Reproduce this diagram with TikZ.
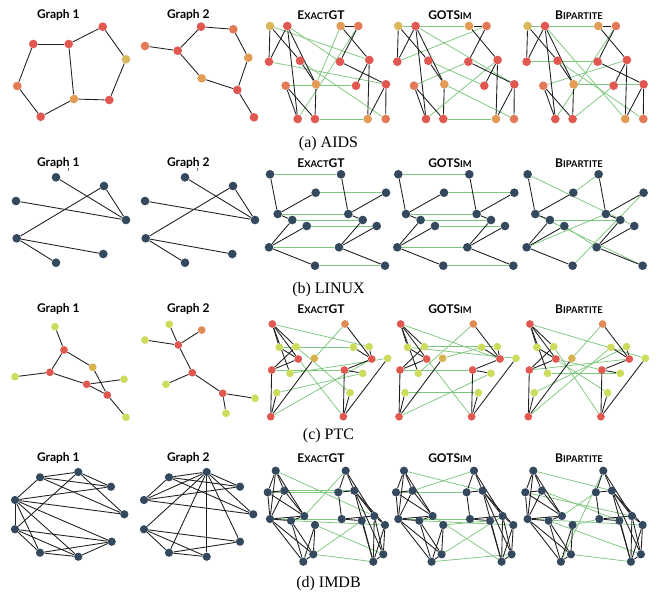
\documentclass[tikz,border=0pt]{standalone}
\usepackage{fontspec}
\newfontfamily\ttlfont{Lato}
\newfontfamily\capfont{Liberation Serif}
\pgfdeclarelayer{bgw}
\pgfdeclarelayer{bgg}
\pgfdeclarelayer{bg}
\pgfsetlayers{bgw,bgg,bg,main}
\definecolor{cRd}{HTML}{E0584F}
\definecolor{cSa}{HTML}{E27A57}
\definecolor{cOg}{HTML}{E39C55}
\definecolor{cYe}{HTML}{D9B95C}
\definecolor{cNv}{HTML}{34495E}
\definecolor{cLm}{HTML}{CDDC5C}
\definecolor{cGd}{HTML}{D8B24E}
\definecolor{cPo}{HTML}{E08A55}
\definecolor{cGl}{HTML}{7DC67D}
\def\dotsz{6.3pt}
\tikzset{
  dot/.style={circle, inner sep=0pt, minimum size=\dotsz, draw=none},
  edge/.style={black!88, line width=0.65pt},
  match/.style={cGl, line width=0.55pt},
  ttl/.style={font=\ttlfont\bfseries\fontsize{9}{10}\selectfont, inner sep=0pt},
  capt/.style={font=\capfont\fontsize{12}{14}\selectfont, inner sep=0pt}
}
\newcommand\sm[1]{{\fontsize{7}{8}\selectfont #1}}
\newcommand\placeg[4]{%
  \begin{scope}[shift={(#2,0)}]
    \foreach \x/\y/\c [count=\i] in #3 {\node[dot,fill=\c] (#1#4\i) at (\x,\y) {};}
  \end{scope}}
\newcommand\edgesg[2]{\begin{pgfonlayer}{bg}\foreach \a/\b in {#2} {\draw[edge] (#1\a) -- (#1\b);}\end{pgfonlayer}}
\newcommand\matchg[2]{\begin{pgfonlayer}{bgg}\foreach \a/\b in {#2} {\draw[match] (#1L\a) -- (#1R\b);}\end{pgfonlayer}}
\newcommand\rowpanels[5]{%
  \foreach \p/\s in {E/0,G/128.3,B/257.6}{%
    \placeg{#1\p}{\s}{#2}{L}%
    \placeg{#1\p}{\s}{#3}{R}%
    \edgesg{#1\p L}{#4}%
    \edgesg{#1\p R}{#5}%
  }}
\newcommand\titles[3]{%
  \node[ttl] (#1t1) at (58.3,#2) {Graph 1};
  \node[ttl] (#1t2) at (188.3,#2) {Graph 2};
  \node[ttl] (#1t3) at (321,#2) {E\sm{XACT}GT};
  \node[ttl] (#1t4) at (450,#2) {GOTS\sm{IM}};
  \node[ttl] (#1t5) at (579,#2) {B\sm{IPARTITE}};
  \node[capt] (#1cap) at (328.5,#3) {(#1) \csname cap#1\endcsname};}
\def\capa{AIDS}\def\capb{LINUX}\def\capc{PTC}\def\capd{IMDB}
% ---------- data ----------
\def\aGa{102.7/26.7/cRd, 33.3/44/cRd, 68.7/44/cRd, 126/59.3/cYe, 17.3/86/cSa, 74/99/cOg, 109.3/100/cRd, 40.7/116.7/cRd}
\def\aGb{145/46/cSa, 177.7/50.7/cRd, 201/26.7/cRd, 233.3/29.3/cSa, 248.3/57.7/cOg, 201.7/78.3/cOg, 237.3/90/cRd, 254/117.3/cRd}
\def\aPL{270/26/cYe, 287.3/26/cRd, 269/61.7/cRd, 300/60.7/cRd, 285.7/85.7/cSa, 316/84.3/cOg, 297.7/119/cRd, 315/119/cRd}
\def\aPR{340.7/26/cOg, 358.3/26/cSa, 340/61.7/cRd, 369.3/60/cRd, 356/85.7/cRd, 386/84.3/cRd, 367.7/119/cOg, 385.7/119/cSa}
\def\lGa{56/177.3/cNv, 104/186/cNv, 16/201/cNv, 126/220/cNv, 16.7/238.3/cNv, 103.3/254/cNv, 56/262.7/cNv}
\def\lGb{185/177.3/cNv, 233/186/cNv, 145/201/cNv, 255/220/cNv, 145.7/238.3/cNv, 232.3/254/cNv, 185/262.7/cNv}
\def\lPL{270/174.3/cNv, 315.7/192.7/cNv, 277.7/214/cNv, 292.3/220/cNv, 306.7/226/cNv, 269/247.3/cNv, 315/265.7/cNv}
\def\lPR{341/174.3/cNv, 386/192.7/cNv, 348.3/214/cNv, 362.7/220/cNv, 376.7/226/cNv, 339/247.3/cNv, 385/265.7/cNv}
\def\pGa{55/326.7/cLm, 64/350/cRd, 92.7/367.3/cGd, 15/376.7/cLm, 50/372.3/cRd, 86.7/384.3/cRd, 124/379.3/cLm, 107.3/395/cRd, 126/417.3/cLm}
\def\pGb{169.3/324.3/cLm, 201.7/330/cPo, 145/340/cLm, 178.3/345/cRd, 192.3/372.7/cRd, 166/384.3/cLm, 222.7/393.3/cRd, 255/398.3/cLm, 226/413.3/cLm}
\def\pPL{272.3/324/cRd, 279.3/347.3/cLm, 296/346.7/cLm, 298.3/359/cRd, 314.3/358.3/cGd, 271.7/370/cRd, 290/373.3/cLm, 276.7/392.7/cLm, 270.7/416.7/cRd}
\def\pPR{345/324/cPo, 353.3/347.3/cLm, 369/346.7/cLm, 371.7/359/cRd, 387.7/358.3/cLm, 344.3/370/cRd, 362.7/373.3/cLm, 350/392.7/cLm, 343.3/416.7/cRd}
\def\iGa{40/477.3/cNv, 78.3/472/cNv, 111/486.7/cNv, 15/500/cNv, 124.3/514.3/cNv, 15/529.3/cNv, 111.7/541.7/cNv, 40/552.7/cNv, 78.3/556.7/cNv}
\def\iGb{169/477.3/cNv, 206.7/472/cNv, 240/486.7/cNv, 144/500/cNv, 253.3/514.3/cNv, 144/529.3/cNv, 240/541.7/cNv, 169/552.7/cNv, 206.7/556.7/cNv}
\def\iPL{275.7/470.7/cNv, 267.7/492.3/cNv, 284.3/490.7/cNv, 270/519/cNv, 291/520.7/cNv, 304.3/516/cNv, 315/525/cNv, 303.3/561.7/cNv, 313.3/554.3/cNv}
\def\iPR{345.7/470.7/cNv, 338.3/492.3/cNv, 354.3/490.7/cNv, 341.7/519/cNv, 361.7/520.7/cNv, 374.3/516/cNv, 385/525/cNv, 373.3/561.7/cNv, 383.3/554.3/cNv}
\begin{document}
\begin{tikzpicture}[x=0.75pt,y=-0.75pt]
\useasboundingbox (0,0) rectangle (660,594);
\begin{pgfonlayer}{bgw}\fill[white] (0,0) rectangle (660,594);\end{pgfonlayer}
% ================= (a) AIDS =================
\def\dotsz{6.5pt}
\titles{a}{15}{144}
\placeg{aX}{0}{\aGa}{L}
\placeg{aX}{0}{\aGb}{R}
\edgesg{aXL}{3/1, 1/4, 4/7, 7/6, 6/3, 3/2, 2/5, 5/8, 8/6}
\edgesg{aXR}{1/2, 2/3, 3/4, 4/5, 5/7, 7/6, 6/2, 7/8}
\rowpanels{a}{\aPL}{\aPR}{1/3, 1/4, 4/6, 2/6, 2/3, 2/7, 7/5, 5/8, 8/6}{1/2, 2/3, 3/6, 6/8, 6/7, 7/4, 4/5, 4/1}
\matchg{aE}{1/4, 2/3, 3/6, 4/8, 5/5, 6/1, 7/2, 8/7}
\matchg{aG}{1/1, 2/6, 3/2, 4/5, 5/3, 6/8, 7/4, 8/7}
\matchg{aB}{1/1, 2/7, 3/3, 4/8, 5/4, 6/6, 7/2, 8/5}
% ================= (b) LINUX =================
\def\dotsz{6.5pt}
\titles{b}{163}{290}
\draw[black!60, line width=0.4pt] (68.3,168.3) -- (68.3,170.7);
\draw[black!60, line width=0.4pt] (197.7,168.3) -- (197.7,170.7);
\placeg{bX}{0}{\lGa}{L}
\placeg{bX}{0}{\lGb}{R}
\edgesg{bXL}{1/4, 2/4, 3/4, 2/5, 5/6, 5/7}
\edgesg{bXR}{1/4, 2/4, 3/4, 2/5, 5/6, 5/7}
\rowpanels{b}{\lPL}{\lPR}{1/3, 2/3, 3/4, 4/6, 5/6, 6/7}{1/3, 2/3, 3/4, 4/6, 5/6, 6/7}
\matchg{bE}{1/1, 2/2, 3/3, 4/4, 5/5, 6/6, 7/7}
\matchg{bG}{1/1, 2/2, 3/3, 4/4, 5/5, 6/6, 7/7}
\matchg{bB}{1/5, 2/1, 3/7, 4/4, 5/6, 6/3, 7/2}
% ================= (c) PTC =================
\def\dotsz{5.8pt}
\titles{c}{309}{436}
\placeg{cX}{0}{\pGa}{L}
\placeg{cX}{0}{\pGb}{R}
\edgesg{cXL}{1/2, 2/3, 2/5, 4/5, 5/6, 6/7, 6/8, 3/8, 8/9}
\edgesg{cXR}{1/4, 2/4, 3/4, 4/5, 5/6, 5/7, 7/8, 7/9}
\rowpanels{c}{\pPL}{\pPR}{1/2, 1/3, 1/4, 1/7, 2/4, 3/6, 4/6, 6/9, 9/5, 9/8}{1/4, 2/4, 3/4, 4/6, 6/9, 6/7, 9/8, 9/5}
\matchg{cE}{1/3, 2/2, 3/8, 4/9, 5/1, 6/6, 7/5, 8/7, 9/4}
\matchg{cG}{1/4, 2/5, 3/3, 4/9, 5/2, 6/6, 7/1, 8/8, 9/7}
\matchg{cB}{1/5, 2/8, 3/9, 4/6, 5/1, 6/4, 7/7, 8/3, 9/2}
% ================= (d) IMDB =================
\def\dotsz{6.2pt}
\titles{d}{458.3}{584}
\placeg{dX}{0}{\iGa}{L}
\placeg{dX}{0}{\iGb}{R}
\edgesg{dXL}{4/1, 1/2, 1/3, 1/5, 2/3, 2/5, 2/6, 4/3, 4/5, 4/6, 4/7, 4/8, 4/9, 6/7, 6/8, 6/9, 8/9, 8/7, 9/7}
\edgesg{dXR}{2/1, 2/3, 2/4, 2/5, 2/6, 2/7, 2/8, 2/9, 1/3, 1/5, 4/1, 4/3, 4/5, 6/7, 6/8, 6/9, 8/9, 8/7}
\rowpanels{d}{\iPL}{\iPR}{1/2, 1/3, 1/4, 1/6, 2/3, 2/4, 2/6, 3/4, 3/6, 4/5, 4/6, 4/8, 4/9, 5/8, 5/9, 5/6, 7/9, 7/8, 8/9}{1/2, 1/3, 1/6, 2/3, 2/4, 3/6, 3/7, 3/9, 3/8, 4/5, 4/6, 6/7, 6/9, 6/8, 7/9, 7/8, 8/9, 5/8}
\matchg{dE}{1/6, 2/2, 3/3, 4/4, 5/7, 6/1, 7/9, 8/5, 9/8}
\matchg{dG}{1/3, 2/2, 3/1, 4/4, 5/7, 6/8, 7/5, 8/9, 9/6}
\matchg{dB}{1/3, 2/6, 3/5, 4/7, 5/9, 6/2, 7/4, 8/1, 9/8}
\end{tikzpicture}
\end{document}
